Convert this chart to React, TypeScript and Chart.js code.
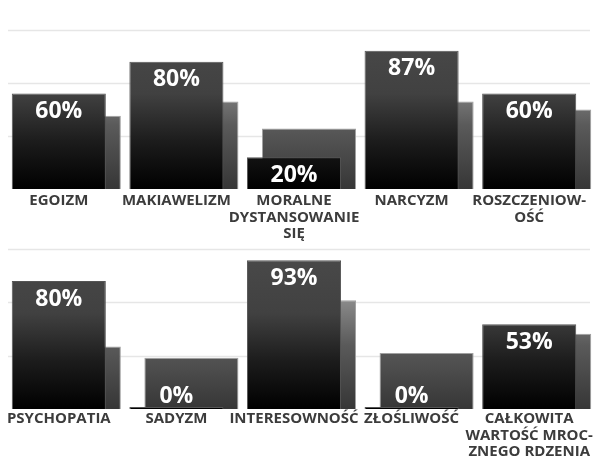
import React, { useEffect, useRef } from 'react';
import { Chart, registerables } from 'chart.js';

Chart.register(...registerables);

const topCategories = [['EGOIZM'], ['MAKIAWELIZM'], ['MORALNE', 'DYSTANSOWANIE', 'SIĘ'], ['NARCYZM'], ['ROSZCZENIOW-', 'OŚĆ']];
const topMain = [60, 80, 20, 87, 60];
const topBack = [46, 55, 38, 55, 50];

const bottomCategories = [['PSYCHOPATIA'], ['SADYZM'], ['INTERESOWNOŚĆ'], ['ZŁOŚLIWOŚĆ'], ['CAŁKOWITA', 'WARTOŚĆ MROC-', 'ZNEGO RDZENIA']];
const bottomMain = [80, 0, 93, 0, 53];
const bottomBack = [39, 32, 68, 35, 47];

const gridValues = [100 / 3, 200 / 3, 100];

const FONT = "'Open Sans', 'DejaVu Sans', sans-serif";

function fgGradient(context: any) {
  const chart = context.chart;
  const { ctx, chartArea } = chart;
  if (!chartArea) return '#333';
  const g = ctx.createLinearGradient(0, chartArea.top, 0, chartArea.bottom);
  g.addColorStop(0, '#4a4a4a');
  g.addColorStop(0.4, '#414141');
  g.addColorStop(0.7, '#1c1c1c');
  g.addColorStop(1, '#000000');
  return g;
}

function bgGradient(context: any) {
  const chart = context.chart;
  const { ctx, chartArea } = chart;
  if (!chartArea) return '#666';
  const g = ctx.createLinearGradient(0, chartArea.top, 0, chartArea.bottom);
  g.addColorStop(0, '#a8a8a8');
  g.addColorStop(0.33, '#888888');
  g.addColorStop(0.6, '#5a5a5a');
  g.addColorStop(1, '#363636');
  return g;
}

const gridPlugin = {
  id: 'customGrid',
  beforeDatasetsDraw(chart: any) {
    const { ctx, chartArea, scales } = chart;
    ctx.save();
    ctx.strokeStyle = '#e6e6e6';
    ctx.lineWidth = 1.5;
    gridValues.forEach((v) => {
      const y = Math.round(scales.y.getPixelForValue(v)) + 0.5;
      ctx.beginPath();
      ctx.moveTo(chartArea.left + 8, y);
      ctx.lineTo(chartArea.right + 2, y);
      ctx.stroke();
    });
    ctx.restore();
  },
};

const shiftPlugin = {
  id: 'shiftBack',
  beforeDatasetDraw(chart: any, args: any) {
    if (args.index === 1) {
      chart.ctx.save();
      chart.ctx.translate(15, 0);
    }
  },
  afterDatasetDraw(chart: any, args: any) {
    if (args.index === 1) {
      chart.ctx.restore();
    }
  },
};

const labelPlugin = {
  id: 'valueLabels',
  afterDatasetsDraw(chart: any) {
    const { ctx } = chart;
    const meta = chart.getDatasetMeta(0);
    const data = chart.data.datasets[0].data;
    ctx.save();
    ctx.fillStyle = '#ffffff';
    ctx.font = `bold 23px ${FONT}`;
    ctx.textAlign = 'center';
    ctx.textBaseline = 'alphabetic';
    meta.data.forEach((bar: any, i: number) => {
      const y = Math.min(bar.y + 24.5, bar.base - 5.7);
      ctx.fillText(`${data[i]}%`, bar.x, y);
    });
    ctx.restore();
  },
};

function BarPanel({ labels, main, back, axisHeight, padTop, tickPad, height }: any) {
  const ref = useRef<HTMLCanvasElement | null>(null);
  useEffect(() => {
    if (!ref.current) return;
    const chart = new Chart(ref.current, {
      type: 'bar',
      data: {
        labels,
        datasets: [
          {
            data: main,
            backgroundColor: fgGradient,
            borderColor: '#555555',
            borderWidth: { top: 1, left: 1, right: 1, bottom: 0 },
            grouped: false,
            barPercentage: 0.8,
            categoryPercentage: 1,
            minBarLength: 2,
            clip: false,
          } as any,
          {
            data: back,
            backgroundColor: bgGradient,
            borderColor: '#a0a0a0',
            borderWidth: { top: 1, left: 1, right: 1, bottom: 0 },
            grouped: false,
            barPercentage: 0.8,
            categoryPercentage: 1,
            clip: false,
          } as any,
        ],
      },
      options: {
        animation: false,
        responsive: false,
        maintainAspectRatio: false,
        layout: { padding: { top: padTop, left: 0, right: 9, bottom: 0 } },
        plugins: { legend: { display: false }, tooltip: { enabled: false } },
        scales: {
          x: {
            type: 'category',
            offset: true,
            grid: { display: false, drawTicks: false },
            border: { display: false },
            ticks: {
              autoSkip: false,
              maxRotation: 0,
              minRotation: 0,
              padding: tickPad,
              color: '#3c3c3c',
              font: { family: FONT, weight: 'bold', size: 15, lineHeight: 1.09 },
            },
            afterFit: (scale: any) => {
              scale.height = axisHeight;
            },
          },
          y: {
            display: false,
            min: 0,
            max: 100,
          },
        },
      } as any,
      plugins: [gridPlugin, shiftPlugin, labelPlugin],
    });
    return () => chart.destroy();
  }, []);
  return <canvas ref={ref} width={597} height={height} style={{ display: 'block', width: 597, height }} />;
}

export default function App() {
  return (
    <div style={{ position: 'absolute', left: 0, top: 0, width: 597, height: 470, background: '#ffffff' }}>
      <BarPanel labels={topCategories} main={topMain} back={topBack} height={247} axisHeight={58} padTop={30} tickPad={4} />
      <BarPanel labels={bottomCategories} main={bottomMain} back={bottomBack} height={223} axisHeight={61} padTop={2} tickPad={2} />
    </div>
  );
}
